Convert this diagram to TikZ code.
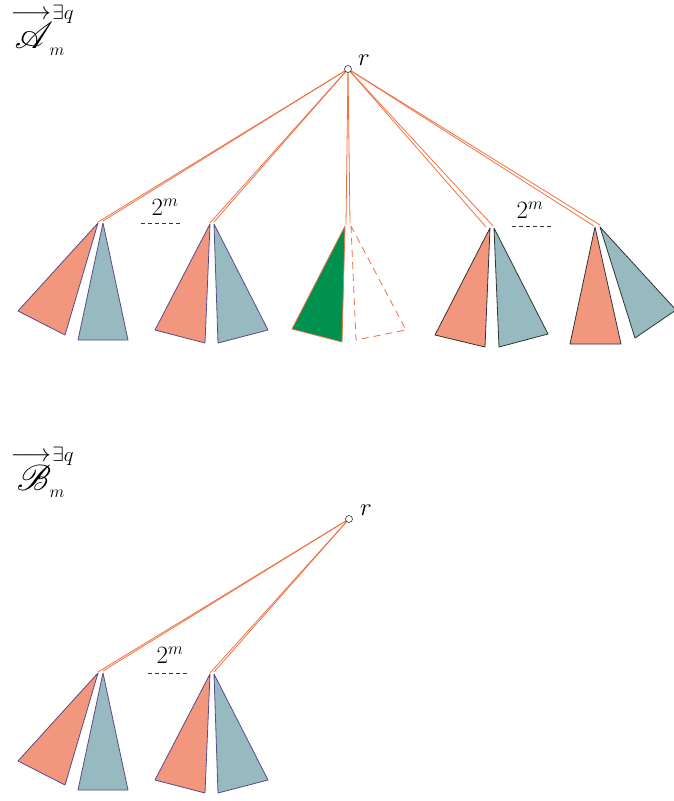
\documentclass[tikz,border=0pt]{standalone}
\usepackage{graphicx}
\usepackage{mathrsfs}
\usepackage{amssymb}
\definecolor{salmon}{HTML}{F2977E}
\definecolor{slate}{HTML}{97BAC0}
\definecolor{leaf}{HTML}{009150}
\definecolor{wire}{HTML}{F07040}
\definecolor{edgeP}{HTML}{5A4A8A}
\definecolor{edgeD}{HTML}{333333}
\begin{document}
\begin{tikzpicture}[x=1pt,y=-1pt,
  link/.style={draw=wire,line width=0.8pt},
  lefttri/.style={fill=salmon,draw=#1,line width=0.8pt,line join=round},
  righttri/.style={fill=slate,draw=#1,line width=0.8pt,line join=round},
  rootnode/.style={circle,draw=black!80,fill=white,inner sep=0pt,minimum size=7pt,line width=0.6pt},
  rlabel/.style={font=\fontsize{28}{28}\selectfont,inner sep=0pt},
  cnt/.style={font=\fontsize{25}{25}\selectfont,inner sep=0pt},
  dots/.style={draw=black!80,line width=1pt,dash pattern=on 3.5pt off 3.5pt},
  scr/.style={font=\fontsize{24}{24}\selectfont,inner sep=0pt},
  arr/.style={font=\fontsize{24}{24}\selectfont,inner sep=0pt},
  qlab/.style={font=\fontsize{20}{20}\selectfont,inner sep=0pt},
  sub/.style={font=\fontsize{17}{17}\selectfont,inner sep=0pt}]
\useasboundingbox (0,0) rectangle (674,801);

% ---------- top tree ----------
\node[arr] (taar) at (31,15) {$\longrightarrow$};
\node[qlab] (taq) at (63,14) {$\exists q$};
\node[scr] (ta) at (34,35) {\scalebox{1.5}{$\mathscr{A}$}};
\node[sub] (tam) at (57,52) {$m$};
\coordinate (r1) at (348,69);
\node[rlabel] (r1l) at (364,60) {$r$};
% apexes
\coordinate (a1) at (98,222); \coordinate (b1) at (103,221);
\coordinate (a2) at (210,223); \coordinate (b2) at (214,222);
\coordinate (a3) at (346,225); \coordinate (b3) at (350,223);
\coordinate (a4) at (486,227); \coordinate (b4) at (493,226);
\coordinate (a5) at (594,226); \coordinate (b5) at (600,225);
\foreach \p in {a1,b1,a2,b2,a3,b3,a4,b4,a5,b5}{\draw[link] (r1) -- (\p);}
% subtrees
\draw[lefttri=edgeP] (98,223) -- (18,311) -- (65,335) -- cycle;
\draw[righttri=edgeP] (103,223) -- (78,340) -- (128,340) -- cycle;
\draw[lefttri=edgeP] (210,224) -- (155,330) -- (205,343) -- cycle;
\draw[righttri=edgeP] (214,224) -- (218,343) -- (268,330) -- cycle;
\draw[fill=leaf,draw=wire,line width=0.8pt,line join=round] (345,226) -- (292,329) -- (342,342) -- cycle;
\draw[draw=wire,line width=0.8pt,dash pattern=on 7pt off 5pt] (351,226) -- (356,340) -- (406,330) -- cycle;
\draw[lefttri=edgeD] (490,228) -- (435,335) -- (485,347) -- cycle;
\draw[righttri=edgeD] (494,228) -- (499,347) -- (548,334) -- cycle;
\draw[lefttri=edgeD] (595,227) -- (570,344) -- (621,344) -- cycle;
\draw[righttri=edgeD] (600,227) -- (635,338) -- (676,310) -- cycle;
% counts
\node[cnt] (c1) at (165,207) {$2^{m}$};
\draw[dots] (141,223) -- (181,223);
\node[cnt] (c2) at (530,210) {$2^{m}$};
\draw[dots] (512,226) -- (552,226);
\node[rootnode] (n1) at (r1) {};

% ---------- bottom tree ----------
\node[arr] (tbar) at (31,457) {$\longrightarrow$};
\node[qlab] (tbq) at (63,456) {$\exists q$};
\node[scr] (tb) at (34,478) {\scalebox{1.45}{$\mathscr{B}$}};
\node[sub] (tbm) at (57,494) {$m$};
\coordinate (r2) at (349,519);
\node[rlabel] (r2l) at (366,510) {$r$};
\coordinate (d1) at (98,672); \coordinate (e1) at (103,671);
\coordinate (d2) at (210,673); \coordinate (e2) at (214,672);
\foreach \p in {d1,e1,d2,e2}{\draw[link] (r2) -- (\p);}
\draw[lefttri=edgeP] (98,673) -- (18,761) -- (65,785) -- cycle;
\draw[righttri=edgeP] (103,673) -- (78,790) -- (128,790) -- cycle;
\draw[lefttri=edgeP] (210,674) -- (155,780) -- (205,793) -- cycle;
\draw[righttri=edgeP] (214,674) -- (218,793) -- (268,780) -- cycle;
\node[cnt] (c3) at (170,655) {$2^{m}$};
\draw[dots] (148,673) -- (188,673);
\node[rootnode] (n2) at (r2) {};
\end{tikzpicture}
\end{document}
